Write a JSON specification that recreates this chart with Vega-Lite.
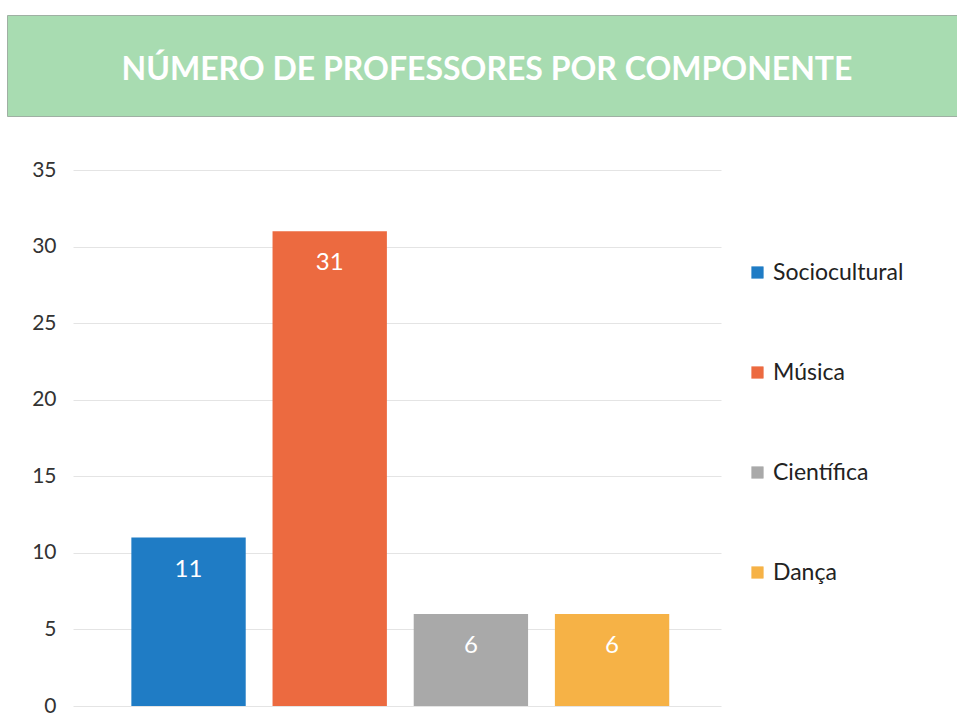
{
  "$schema": "https://vega.github.io/schema/vega-lite/v6.json",
  "background": "white",
  "padding": {"left": 6, "top": 14, "right": 0, "bottom": 0},
  "config": {"font": "Lato"},
  "spacing": 42,
  "resolve": {"legend": {"color": "independent"}},
  "vconcat": [
    {
      "width": 960,
      "height": 101,
      "view": {"fill": "#a8dcb1", "stroke": "#9fb0a3", "strokeWidth": 1},
      "data": {"values": [{"titulo": "NÚMERO DE PROFESSORES POR COMPONENTE"}]},
      "mark": {"type": "text", "color": "white", "fontWeight": "bold", "fontSize": 32, "font": "Lato", "dy": 4},
      "encoding": {"text": {"field": "titulo", "type": "nominal"}}
    },
    {
      "spacing": 0,
      "resolve": {"legend": {"color": "independent"}},
      "hconcat": [
        {
          "width": 1,
          "height": 536,
          "view": {"stroke": null},
          "data": {"values": [{"vazio": ""}]},
          "mark": {"type": "text", "opacity": 0},
          "encoding": {"text": {"field": "vazio", "type": "nominal"}}
        },
        {
          "width": 648,
          "height": 536,
          "view": {"stroke": null},
          "data": {
            "values": [
              {"componente": "Sociocultural", "professores": 11},
              {"componente": "Música", "professores": 31},
              {"componente": "Científica", "professores": 6},
              {"componente": "Dança", "professores": 6}
            ]
          },
          "encoding": {
            "x": {
              "field": "componente",
              "type": "nominal",
              "sort": null,
              "axis": null,
              "scale": {"paddingInner": 0.19, "paddingOuter": 0.39, "align": 0.53}
            },
            "y": {
              "field": "professores",
              "type": "quantitative",
              "scale": {"domain": [0, 35]},
              "axis": {
                "values": [0, 5, 10, 15, 20, 25, 30, 35],
                "title": null,
                "domain": false,
                "ticks": false,
                "labelFontSize": 21,
                "labelColor": "#333333",
                "labelPadding": 17,
                "minExtent": 65,
                "gridColor": "#e4e4e4",
                "gridWidth": 1
              }
            }
          },
          "layer": [
            {
              "mark": {"type": "bar"},
              "encoding": {
                "color": {
                  "field": "componente",
                  "type": "nominal",
                  "sort": null,
                  "scale": {
                    "domain": ["Sociocultural", "Música", "Científica", "Dança"],
                    "range": ["#1f7cc5", "#ec6a40", "#a9a9a9", "#f6b246"]
                  },
                  "legend": {
                    "title": null,
                    "orient": "none",
                    "legendX": 673,
                    "legendY": 91,
                    "symbolType": "square",
                    "symbolSize": 150,
                    "symbolStrokeWidth": 0,
                    "labelFontSize": 23,
                    "labelColor": "#222222",
                    "labelOffset": 4,
                    "rowPadding": 76
                  }
                }
              }
            },
            {
              "mark": {"type": "text", "baseline": "top", "dy": 20, "color": "white", "fontSize": 24},
              "encoding": {"text": {"field": "professores", "type": "quantitative"}}
            }
          ]
        }
      ]
    }
  ]
}
